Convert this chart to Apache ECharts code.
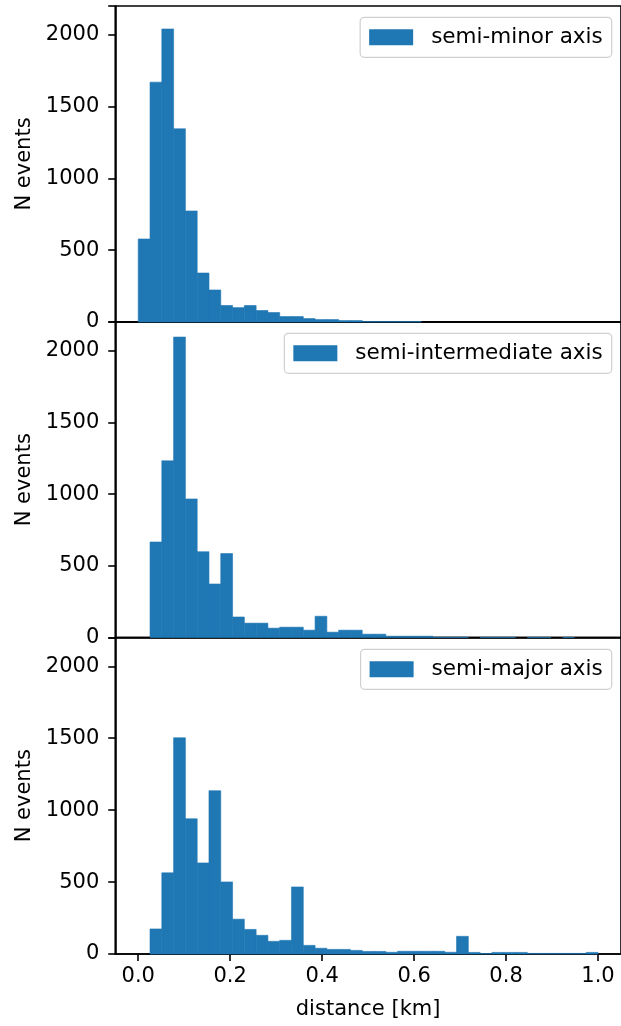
<!DOCTYPE html>
<html>
<head>
<meta charset="utf-8">
<script src="https://cdn.jsdelivr.net/npm/echarts@6/dist/echarts.min.js"></script>
<style>
html,body{margin:0;padding:0;background:#fff;}
#chart{width:621px;height:1026px;}
</style>
</head>
<body>
<div id="chart"></div>
<script>
// Histogram bin edges (km)
const binEdges = [0, 0.02564, 0.05128, 0.07692, 0.10256, 0.12821, 0.15385, 0.17949, 0.20513, 0.23077,
  0.25641, 0.28205, 0.30769, 0.33333, 0.35897, 0.38462, 0.41026, 0.43590, 0.46154, 0.48718,
  0.51282, 0.53846, 0.56410, 0.58974, 0.61538, 0.64103, 0.66667, 0.69231, 0.71795, 0.74359,
  0.76923, 0.79487, 0.82051, 0.84615, 0.87179, 0.89744, 0.92308, 0.94872, 0.97436, 1.0];

const seriesNames = ['semi-minor axis', 'semi-intermediate axis', 'semi-major axis'];

const semiMinor = [578, 1670, 2040, 1345, 773, 341, 223, 115, 100, 115,
  80, 66, 38, 38, 24, 17, 17, 10, 10, 3,
  3, 3, 3, 3, 0, 0, 0, 0, 0, 0,
  0, 0, 0, 0, 0, 0, 0, 0, 0];

const semiIntermediate = [0, 666, 1232, 2095, 966, 598, 373, 585, 143, 100,
  100, 65, 72, 72, 51, 148, 37, 51, 51, 23,
  23, 9, 9, 9, 9, 2, 2, 2, 0, 1,
  1, 1, 0, 1, 1, 0, 1, 0, 0];

const semiMajor = [0, 174, 564, 1503, 940, 633, 1135, 501, 242, 171,
  130, 88, 95, 466, 60, 40, 32, 32, 25, 18,
  18, 12, 19, 19, 19, 19, 12, 123, 11, 3,
  11, 11, 11, 4, 4, 4, 4, 4, 11];

const xTicks = [0, 0.2, 0.4, 0.6, 0.8, 1.0];
const yTicks = [0, 500, 1000, 1500, 2000];

const FONT = 'DejaVu Sans';
const BAR = '#1f77b4';

function histData(counts) {
  return counts.map((c, i) => [binEdges[i], binEdges[i + 1], c]);
}

function renderItem(params, api) {
  const p0 = api.coord([api.value(0), api.value(2)]);
  const p1 = api.coord([api.value(1), 0]);
  const h = p1[1] - p0[1];
  if (h <= 0) return null;
  return {
    type: 'rect',
    shape: { x: p0[0], y: p0[1], width: p1[0] - p0[0], height: h },
    style: { fill: BAR, stroke: BAR, lineWidth: 0.6 }
  };
}

const gridTops = [6, 322, 637.5];
const gridHeights = [316, 315.5, 316.5];
const legendTops = [17.3, 333.3, 649.3];
const allCounts = [semiMinor, semiIntermediate, semiMajor];

const grids = [], xAxes = [], yAxes = [], series = [], legends = [];
for (let i = 0; i < 3; i++) {
  grids.push({
    left: 115.25, width: 507.1, top: gridTops[i], height: gridHeights[i],
    show: true, borderColor: '#000', borderWidth: 1.6, backgroundColor: 'transparent',
    containLabel: false
  });
  const isBottom = i === 2;
  xAxes.push({
    type: 'value', gridIndex: i, min: -0.05, max: 1.05,
    axisLine: { show: true, onZero: false, lineStyle: { color: '#000', width: 1.6 } },
    axisTick: { show: isBottom, length: 7, lineStyle: { color: '#000', width: 1.6 }, customValues: xTicks },
    axisLabel: {
      show: isBottom, customValues: xTicks, margin: 12,
      formatter: v => v.toFixed(1),
      color: '#000', fontSize: 21, fontFamily: FONT
    },
    splitLine: { show: false },
    name: isBottom ? 'distance [km]' : '',
    nameLocation: 'middle', nameGap: 45,
    nameTextStyle: { color: '#000', fontSize: 21, fontFamily: FONT }
  });
  yAxes.push({
    type: 'value', gridIndex: i, min: 0, max: 2200, interval: 500,
    axisLine: { show: true, onZero: false, lineStyle: { color: '#000', width: 1.6 } },
    axisTick: { show: true, length: 7, lineStyle: { color: '#000', width: 1.6 } },
    axisLabel: {
      color: '#000', fontSize: 21, fontFamily: FONT, margin: 16,
      formatter: v => (v > 2000 ? '' : String(v))
    },
    splitLine: { show: false },
    name: 'N events', nameLocation: 'middle', nameGap: 78,
    nameTextStyle: { color: '#000', fontSize: 21, fontFamily: FONT }
  });
  series.push({
    type: 'custom', name: seriesNames[i], xAxisIndex: i, yAxisIndex: i,
    renderItem: renderItem, encode: { x: [0, 1], y: 2 },
    itemStyle: { color: BAR },
    data: histData(allCounts[i]),
    silent: true
  });
  legends.push({
    data: [{ name: seriesNames[i], icon: 'rect' }],
    right: 9.3, top: legendTops[i],
    orient: 'horizontal',
    itemWidth: 44, itemHeight: 16,
    padding: [9, 9, 9, 9],
    borderColor: '#d0d0d0', borderWidth: 1.2, borderRadius: 4,
    backgroundColor: '#fff',
    selectedMode: false,
    textStyle: { color: '#000', fontSize: 21.5, fontFamily: FONT, padding: [0, 0, 0, 13] }
  });
}

const chart = echarts.init(document.getElementById('chart'), null, { renderer: 'canvas' });
chart.setOption({
  animation: false,
  backgroundColor: '#fff',
  grid: grids,
  xAxis: xAxes,
  yAxis: yAxes,
  legend: legends,
  series: series
});
</script>
</body>
</html>
